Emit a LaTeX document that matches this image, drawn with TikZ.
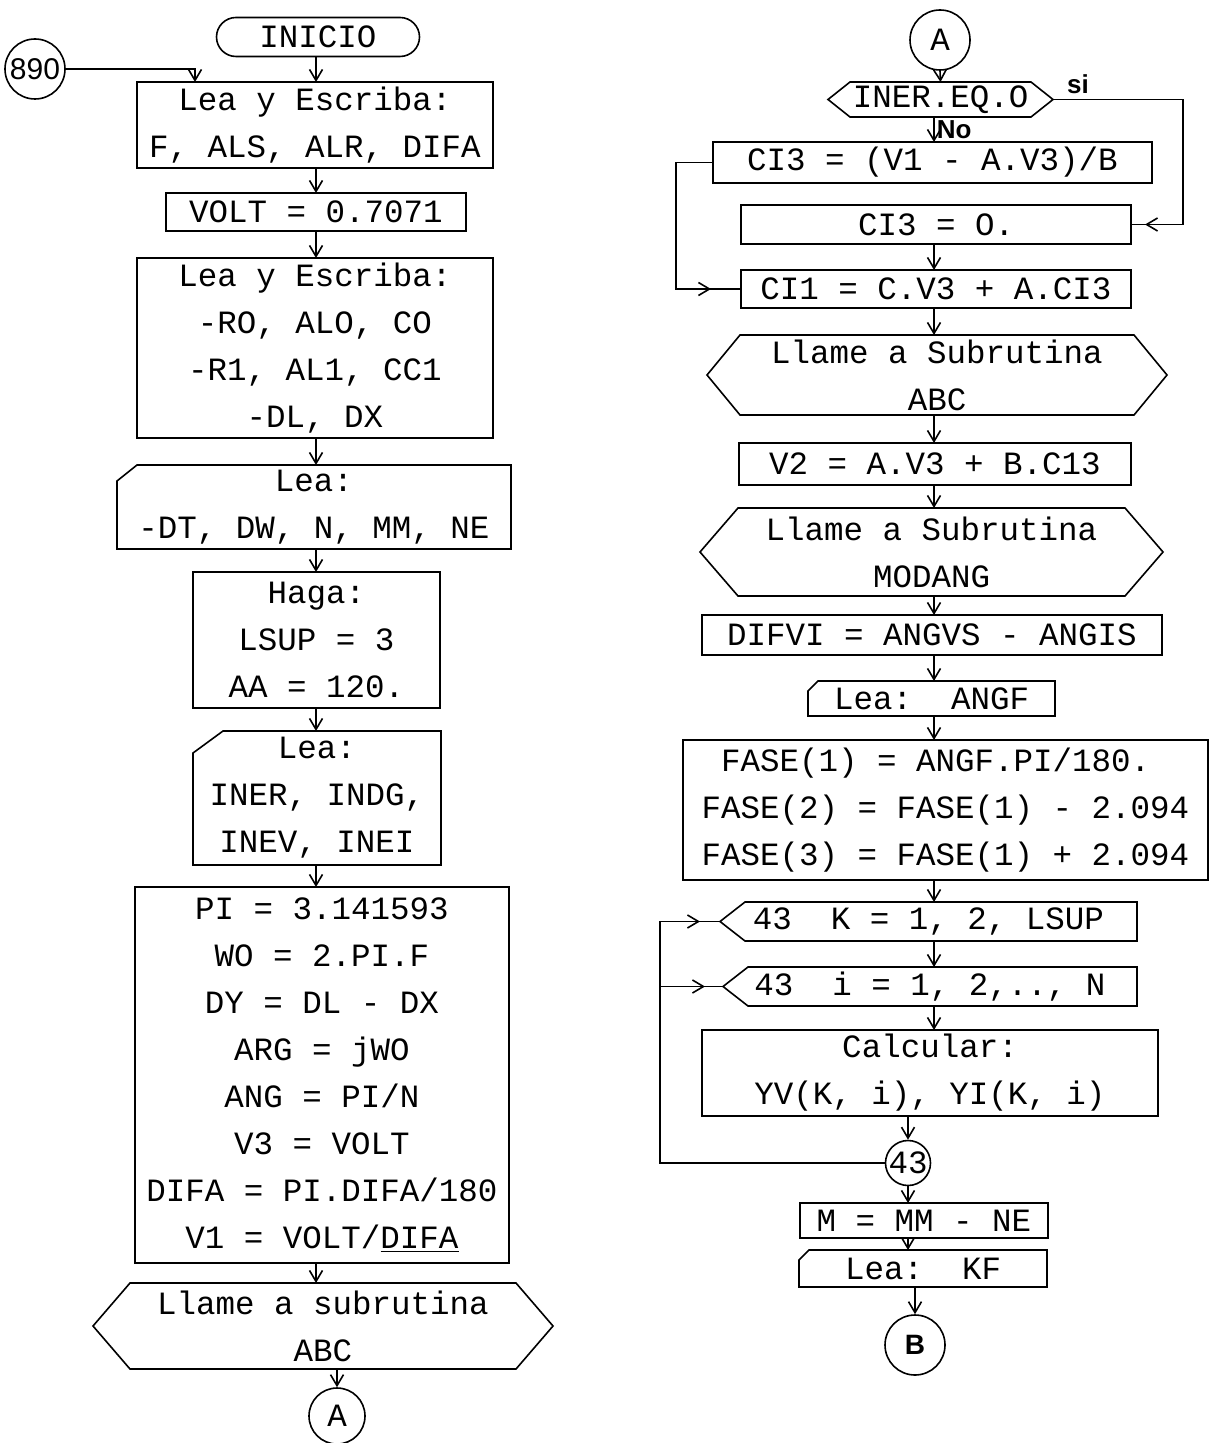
\documentclass[tikz,border=0pt]{standalone}
\usepackage{fontspec}
\setmonofont{Liberation Mono}
\setsansfont{Liberation Sans}
\usepackage{tikz}
\usetikzlibrary{arrows.meta, positioning, calc, shapes.misc, decorations.markings}

\newcommand\tw{\ttfamily\fontsize{16.25}{23.5}\selectfont}
\newcommand\sifont{\sffamily\bfseries\fontsize{13}{15}\selectfont}
% outlines for the shapes drawn around plain nodes
\newcommand\cardline[3]{\draw (#1.south west) -- ([yshift=-#3]#1.north west) -- ([xshift=#2]#1.north west) -- (#1.north east) -- (#1.south east) -- cycle;}
\newcommand\hexline[2]{\draw (#1.west) -- ([xshift=#2]#1.north west) -- ([xshift=-#2]#1.north east) -- (#1.east) -- ([xshift=-#2]#1.south east) -- ([xshift=#2]#1.south west) -- cycle;}
\newcommand\loopline[2]{\draw (#1.west) -- ([xshift=#2]#1.north west) -- (#1.north east) -- (#1.south east) -- ([xshift=#2]#1.south west) -- cycle;}

\tikzset{
  box/.style={draw, inner sep=0pt, outer sep=0pt, align=center, font=\tw},
  plain/.style={inner sep=0pt, outer sep=0pt, align=center, font=\tw},
  term/.style={draw, rounded rectangle, inner sep=0pt, font=\tw},
  circ/.style={draw, circle, inner sep=0pt, minimum size=#1, font=\tw},
  lbl/.style={font=\sifont, inner sep=1pt},
  arr/.style={-{Straight Barb[length=5.5pt,width=6.5pt]}},
  midarr/.style={postaction={decorate, decoration={markings, mark=at position #1 with {\arrow{Straight Barb[length=5.5pt,width=6.5pt]}}}}}
}

\begin{document}
\begin{tikzpicture}[x=0.5pt, y=-0.5pt, line width=0.8pt]
  \fill[white] (0,0) rectangle (1213,1443);
  \useasboundingbox (0,0) rectangle (1213,1443);
  \coordinate (colL) at (316,0);
  \coordinate (colR) at (934,0);
  \coordinate (j890) at (195,82);
  \coordinate (siR) at (1183,0);
  \coordinate (noL) at (676,0);
  \coordinate (lpL) at (660,0);

  % columna izquierda
  \node[term, minimum width=101.5pt, minimum height=19.5pt] (inicio) at (318,37) {INICIO};
  \node[circ=30pt, font=\sffamily\fontsize{15}{17}\selectfont] (c890) at (35,69) {890};
  \node[box, minimum width=178pt, minimum height=43pt] (lea1) at (315,125) {Lea y Escriba:\\F, ALS, ALR, DIFA};
  \node[box, minimum width=150pt, minimum height=19pt] (volt) at (316,212) {VOLT = 0.7071};
  \node[box, minimum width=178pt, minimum height=90pt] (lea2) at (315,348) {Lea y Escriba:\\-RO, ALO, CO\\-R1, AL1, CC1\\-DL, DX};
  \node[plain, minimum width=197pt, minimum height=42pt] (lea3) at (314,507) {Lea:\\-DT, DW, N, MM, NE};
  \cardline{lea3}{10pt}{8pt}
  \node[box, minimum width=123.5pt, minimum height=68pt] (haga) at (316.5,640) {Haga:\\LSUP = 3\\AA = 120.};
  \node[plain, minimum width=124pt, minimum height=67pt] (lea4) at (317,798) {Lea:\\INER, INDG,\\INEV, INEI};
  \cardline{lea4}{15pt}{11pt}
  \node[box, minimum width=187pt, minimum height=188pt] (calc1) at (322,1075) {PI = 3.141593\\WO = 2.PI.F\\DY = DL - DX\\ARG = jWO\\ANG = PI/N\\V3 = VOLT\\DIFA = PI.DIFA/180\\V1 = VOLT/\underline{DIFA}};
  \node[plain, minimum width=230pt, minimum height=43pt] (call1) at (323,1326) {Llame a subrutina\\ABC};
  \hexline{call1}{18.5pt}
  \node[circ=28pt] (cA1) at (337,1416) {A};

  \draw[arr] (inicio.south -| colL) -- (lea1.north -| colL);
  \draw[arr] (c890.east) -| (j890);
  \foreach \a/\b in {lea1/volt, volt/lea2, lea2/lea3, lea3/haga, haga/lea4, lea4/calc1, calc1/call1}
    \draw[arr] (\a.south -| colL) -- (\b.north -| colL);
  \draw[arr] (call1.south -| cA1) -- (cA1.north);

  % columna derecha
  \node[circ=30pt] (cA2) at (940,40) {A};
  \node[plain, minimum width=112.5pt, minimum height=17.5pt] (dec) at (940.5,99.5) {INER.EQ.O};
  \hexline{dec}{11pt}
  \node[lbl] (si) at (1078,84) {si};
  \node[box, minimum width=219.5pt, minimum height=20.5pt] (ci3a) at (932.5,162.5) {CI3 = (V1 - A.V3)/B};
  \node[box, minimum width=195pt, minimum height=19.5pt] (ci3b) at (936,224.5) {CI3 = O.};
  \node[box, minimum width=195pt, minimum height=19pt] (ci1) at (936,289) {CI1 = C.V3 + A.CI3};
  \node[plain, minimum width=230pt, minimum height=40pt] (call2) at (937,375) {Llame a Subrutina\\ABC};
  \hexline{call2}{16.5pt}
  \node[box, minimum width=196pt, minimum height=21pt] (v2) at (935,464) {V2 = A.V3 + B.C13};
  \node[plain, minimum width=231.5pt, minimum height=44pt] (call3) at (931.5,552) {Llame a Subrutina\\MODANG};
  \hexline{call3}{19pt}
  \node[box, minimum width=230pt, minimum height=20pt] (difvi) at (932,635) {DIFVI = ANGVS - ANGIS};
  \node[plain, minimum width=123.5pt, minimum height=17.5pt] (leaf) at (931.5,698.5) {Lea:~~ANGF};
  \cardline{leaf}{5pt}{5pt}
  \node[box, align=left, minimum width=262.5pt, minimum height=70pt] (fase) at (945.5,810) {\phantom{F}FASE(1) = ANGF.PI/180.\\FASE(2) = FASE(1) - 2.094\\FASE(3) = FASE(1) + 2.094};
  \node[plain, minimum width=208.5pt, minimum height=19.5pt] (loopk) at (928.5,921.5) {43~~K = 1, 2, LSUP};
  \loopline{loopk}{12.5pt}
  \node[plain, minimum width=207pt, minimum height=19.5pt] (loopi) at (930,986.5) {43~~i = 1, 2,.., N};
  \loopline{loopi}{12.5pt}
  \node[box, minimum width=228pt, minimum height=43pt] (calc) at (930,1073) {Calcular:\\YV(K, i), YI(K, i)};
  \node[circ=22.5pt] (c43) at (908,1163) {43};
  \node[box, minimum width=124pt, minimum height=17.5pt] (mme) at (924,1220.5) {M = MM - NE};
  \node[plain, minimum width=124pt, minimum height=18.5pt] (leak) at (923,1268.5) {Lea:~~KF};
  \cardline{leak}{5pt}{5pt}
  \node[circ=30pt, font=\sffamily\bfseries\fontsize{14}{16}\selectfont] (cB) at (915,1345) {B};

  \draw[arr] (cA2.south) -- (dec.north);
  \draw[arr] (dec.south -| colR) -- (ci3a.north -| colR) node[midway, right, lbl] (no) {No};
  \draw[midarr=-7pt] (dec.east) -- (dec.east -| siR) |- (ci3b.east);
  \draw[midarr=-15pt] (ci3a.west) -- (ci3a.west -| noL) |- (ci1.west);
  \foreach \a/\b in {ci3b/ci1, ci1/call2, call2/v2, v2/call3, call3/difvi, difvi/leaf, leaf/fase, fase/loopk, loopk/loopi, loopi/calc}
    \draw[arr] (\a.south -| colR) -- (\b.north -| colR);
  \draw[arr] (calc.south -| c43) -- (c43.north);
  \draw[arr] (c43.south) -- (mme.north -| c43);
  \draw[arr] (mme.south -| c43) -- (leak.north -| c43);
  \draw[arr] (leak.south -| cB) -- (cB.north);
  \draw[midarr=-10pt] (c43.west) -- (c43.west -| lpL) |- (loopk.west);
  \draw[midarr=-9pt] (loopi.west -| lpL) -- (loopi.west);
\end{tikzpicture}
\end{document}
